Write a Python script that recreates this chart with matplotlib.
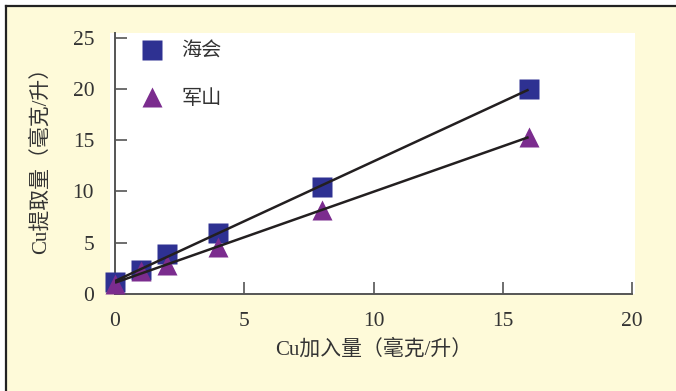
import numpy as np
import matplotlib
matplotlib.use("Agg")
import matplotlib.pyplot as plt   # noqa: E402
from matplotlib.patches import Rectangle   # noqa: E402
from matplotlib.lines import Line2D   # noqa: E402

plt.rcParams["font.family"] = ["Liberation Serif", "Noto Sans CJK SC"]

# Cu 加入量 (mg/L) 与两种土壤的提取量
cu_added = [0, 1, 2, 4, 8, 16]
haihui = [1.2, 2.35, 3.9, 5.9, 10.4, 20.0]
junshan = [1.0, 2.2, 2.8, 4.6, 8.2, 15.3]
series_names = ["海会", "军山"]

x_ticks = [0, 5, 10, 15, 20]
y_ticks = [0, 5, 10, 15, 20, 25]

NAVY = "#2E3192"
PURPLE = "#7B2C8E"
LINE = "#231F20"
BG = "#FEFAD9"
TXT = "#333333"
W, H = 676, 391

fig = plt.figure(figsize=(W / 100, H / 100), dpi=100)
fig.patch.set_facecolor("white")

# 黄色底板 + 左上边框
fig.patches.append(Rectangle((6 / W, 0), 1, 1 - 6 / H, transform=fig.transFigure,
                             facecolor=BG, edgecolor="none", zorder=-3))
fig.lines.append(Line2D([6 / W, 6 / W], [0, 1 - 6 / H], transform=fig.transFigure,
                        color="#222222", lw=1.6, zorder=-1))
fig.lines.append(Line2D([6 / W, 1], [1 - 6 / H, 1 - 6 / H], transform=fig.transFigure,
                        color="#222222", lw=1.6, zorder=-1))
# 绘图区白底稍微大一点
fig.patches.append(Rectangle((110 / W, 1 - 294 / H), 525 / W, 261 / H,
                             transform=fig.transFigure, facecolor="white",
                             edgecolor="none", zorder=-2))

ax = fig.add_axes([115 / W, 1 - 294 / H, 517 / W, 261 / H])
ax.set_facecolor("white")

xs = np.array(cu_added, dtype=float)
for ys in (haihui, junshan):
    k, b = np.polyfit(xs, ys, 1)
    ax.plot([xs.min(), xs.max()], [b, k * xs.max() + b], color=LINE, lw=1.8,
            zorder=4, solid_capstyle="butt")

ax.plot(cu_added, haihui, "s", color=NAVY, ms=15, mec="none", zorder=3,
        label=series_names[0], clip_on=False)
ax.plot(cu_added, junshan, "^", color=PURPLE, ms=14, mec="none", zorder=3.5,
        label=series_names[1], clip_on=False)

ax.set_xlim(0, 20)
ax.set_ylim(0, 25.45)
ax.set_xticks(x_ticks)
ax.set_yticks(y_ticks)
for s in ("top", "right"):
    ax.spines[s].set_visible(False)
for s in ("left", "bottom"):
    ax.spines[s].set_color("#555555")
    ax.spines[s].set_linewidth(1.4)
ax.tick_params(axis="both", direction="in", length=8.5, width=1.2,
               color="#555555", labelsize=15.5, labelcolor=TXT)
ax.tick_params(axis="y", pad=15)
ax.tick_params(axis="x", pad=13)

ax.set_xlabel("Cu加入量（毫克/升）", fontsize=15, color=TXT, labelpad=6)
ax.set_ylabel("Cu提取量（毫克/升）", fontsize=15, color=TXT, labelpad=16)
ax.yaxis.label.set_y(0.53)

leg = ax.legend(loc="upper left", bbox_to_anchor=(0.025, 1.01), frameon=False,
                fontsize=14.5, handlelength=1.2, handletextpad=0.85,
                labelspacing=1.4, borderaxespad=0.4, borderpad=0.2)
for t in leg.get_texts():
    t.set_color(TXT)

fig.savefig("out.png", dpi=100, facecolor=fig.get_facecolor())
